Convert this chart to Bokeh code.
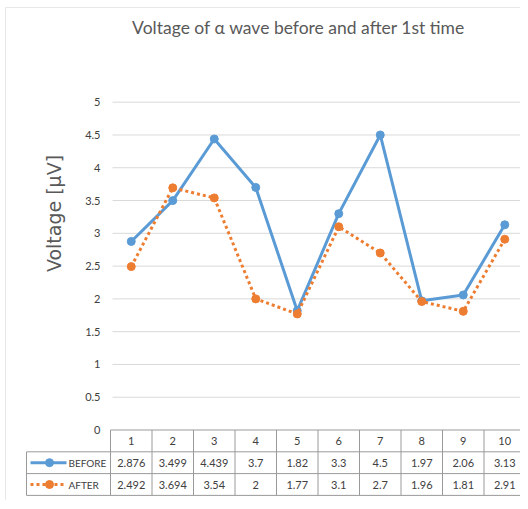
import math
from bokeh.plotting import figure
from bokeh.models import Range1d
from bokeh.core.properties import value
from bokeh.embed import file_html
from bokeh.resources import INLINE

# ---- data ----
categories = [1, 2, 3, 4, 5, 6, 7, 8, 9, 10]
before = [2.876, 3.499, 4.439, 3.7, 1.82, 3.3, 4.5, 1.97, 2.06, 3.13]
after = [2.492, 3.694, 3.54, 2, 1.77, 3.1, 2.7, 1.96, 1.81, 2.91]
before_text = ["2.876", "3.499", "4.439", "3.7", "1.82", "3.3", "4.5", "1.97", "2.06", "3.13"]
after_text = ["2.492", "3.694", "3.54", "2", "1.77", "3.1", "2.7", "1.96", "1.81", "2.91"]
y_ticks = [0, 0.5, 1, 1.5, 2, 2.5, 3, 3.5, 4, 4.5, 5]
y_tick_labels = ["0", "0.5", "1", "1.5", "2", "2.5", "3", "3.5", "4", "4.5", "5"]
series_names = ["BEFORE", "AFTER"]
title_text = "Voltage of \u03b1 wave before and after 1st time"
y_title = "Voltage [\u03bcV]"

# ---- layout (pixels) ----
W, H = 520, 500
COL_W = 41.5          # px per category
UNIT_H = 65.56        # px per unit of y
X_FIRST_PX = 110      # px of left edge of column 1
Y0_PX = 429.5         # px (from top) of y = 0
x_start = 0.5 - X_FIRST_PX / COL_W
x_end = x_start + W / COL_W
y_end = Y0_PX / UNIT_H
y_start = y_end - H / UNIT_H

def fx(px):
    return x_start + px / COL_W

def fy(py):
    return y_end - py / UNIT_H

FONT = "Lato"
BLUE = "#5B9BD5"
ORANGE = "#ED7D31"
GRID = "#D9D9D9"
TABLE = "#9a9a9a"
TXT = "#404040"

p = figure(width=W, height=H, output_backend="svg", toolbar_location=None,
           x_range=Range1d(x_start, x_end), y_range=Range1d(y_start, y_end),
           min_border=0, min_border_left=0, min_border_right=0,
           min_border_top=0, min_border_bottom=0)
p.axis.visible = False
p.grid.visible = False
p.outline_line_color = None
p.background_fill_color = "white"

x_left_data = 0.5
n = len(categories)

# gridlines (0.5..5; y=0 is table border)
gl = [t for t in y_ticks if t > 0]
p.segment(x0=[fx(112)] * len(gl), x1=[x_end] * len(gl), y0=gl, y1=gl,
          line_color=GRID, line_width=1)

# chart area border (left/top)
p.segment(x0=[fx(5), fx(5)], x1=[fx(5), x_end],
          y0=[y_start, fy(7)], y1=[fy(7), fy(7)],
          line_color="#e8e8e8", line_width=1)

# y tick labels
p.text(x=[fx(100)] * len(y_ticks), y=y_ticks, text=y_tick_labels,
       text_align="right", text_baseline="middle",
       text_font=value(FONT), text_font_size="11px", text_color=TXT)

# y axis title
p.text(x=[fx(53)], y=[fy(213)], text=[y_title], angle=math.pi / 2,
       text_align="center", text_baseline="middle",
       text_font=value("DejaVu Sans"), text_font_size="19px", text_color="#595959")

# title
p.text(x=[fx(298)], y=[fy(27)], text=[title_text],
       text_align="center", text_baseline="middle",
       text_font=value(FONT), text_font_size="17.5px", text_color="#595959")

# series
p.line(categories, before, line_color=BLUE, line_width=3)
p.scatter(categories, before, marker="circle", size=8, fill_color=BLUE, line_color=BLUE)
p.line(categories, after, line_color=ORANGE, line_width=3, line_dash="3 3")
p.scatter(categories, after, marker="circle", size=8, fill_color=ORANGE, line_color=ORANGE)

# ---- data table ----
ROW_H = 21.8 / UNIT_H
r0, r1, r2, r3 = 0, -ROW_H, -2 * ROW_H, -3 * ROW_H
label_left = fx(26)
# horizontal lines
p.segment(x0=[x_left_data, label_left, label_left, label_left],
          x1=[x_end] * 4, y0=[r0, r1, r2, r3], y1=[r0, r1, r2, r3],
          line_color=TABLE, line_width=1)
# vertical lines
vx = [x_left_data + k for k in range(n + 1)]
p.segment(x0=vx, x1=vx, y0=[r0] * len(vx), y1=[r3] * len(vx),
          line_color=TABLE, line_width=1)
p.segment(x0=[label_left], x1=[label_left], y0=[r1], y1=[r3],
          line_color=TABLE, line_width=1)

hdr_y = (r0 + r1) / 2
b_y = (r1 + r2) / 2
a_y = (r2 + r3) / 2
p.text(x=categories, y=[hdr_y] * n, text=[str(c) for c in categories],
       text_align="center", text_baseline="middle",
       text_font=value(FONT), text_font_size="11px", text_color=TXT)
p.text(x=categories, y=[b_y] * n, text=before_text,
       text_align="center", text_baseline="middle",
       text_font=value(FONT), text_font_size="11px", text_color=TXT)
p.text(x=categories, y=[a_y] * n, text=after_text,
       text_align="center", text_baseline="middle",
       text_font=value(FONT), text_font_size="11px", text_color=TXT)

# legend keys inside table
p.segment(x0=[fx(30)], x1=[fx(66)], y0=[b_y], y1=[b_y], line_color=BLUE, line_width=3)
p.scatter([fx(49)], [b_y], marker="circle", size=8, fill_color=BLUE, line_color=BLUE)
p.segment(x0=[fx(30)], x1=[fx(66)], y0=[a_y], y1=[a_y], line_color=ORANGE,
          line_width=3, line_dash="3 3")
p.scatter([fx(49)], [a_y], marker="circle", size=8, fill_color=ORANGE, line_color=ORANGE)
p.text(x=[fx(68)] * 2, y=[b_y, a_y], text=series_names,
       text_align="left", text_baseline="middle",
       text_font=value(FONT), text_font_size="10px", text_color=TXT)

open("out.html", "w").write(file_html(p, INLINE))
